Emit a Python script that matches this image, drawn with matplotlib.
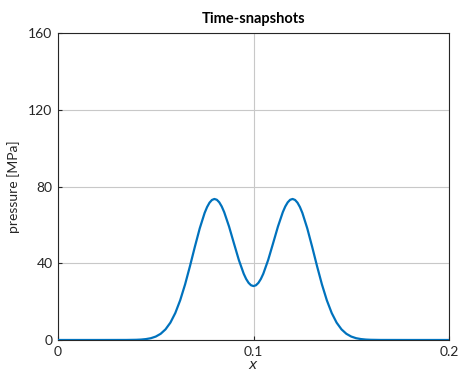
import matplotlib
matplotlib.use('Agg')
import matplotlib.pyplot as plt

plt.rcParams['font.family'] = ['Lato', 'DejaVu Sans']

# pressure snapshot
x_pos = [0.0, 0.02, 0.035, 0.04, 0.0425, 0.045, 0.0475, 0.05, 0.0525, 0.055, 0.0575,
         0.06, 0.0625, 0.065, 0.0675, 0.07, 0.0725, 0.075, 0.07625, 0.0775, 0.07875,
         0.08, 0.08125, 0.0825, 0.08375,
         0.085, 0.0875, 0.09, 0.0925, 0.095, 0.09625, 0.0975, 0.09875, 0.1, 0.10125,
         0.1025, 0.10375, 0.105, 0.1075,
         0.11, 0.1125, 0.115, 0.11625, 0.1175, 0.11875, 0.12, 0.12125, 0.1225, 0.12375,
         0.125, 0.1275, 0.13, 0.1325,
         0.135, 0.1375, 0.14, 0.1425, 0.145, 0.1475, 0.15, 0.1525, 0.155, 0.1575,
         0.16, 0.165, 0.18, 0.2]
pressure = [0.0, 0.0, 0.02, 0.1, 0.22, 0.47, 0.93, 1.78, 3.22, 5.55, 9.06,
            14.06, 20.71, 28.96, 38.48, 48.56, 58.18, 66.22, 69.28, 71.57, 72.99,
            73.50, 73.08, 71.75, 69.58,
            66.66, 59.11, 50.34, 41.70, 34.51, 31.78, 29.76, 28.52, 28.11, 28.52,
            29.76, 31.78, 34.51, 41.70,
            50.34, 59.11, 66.66, 69.58, 71.75, 73.08, 73.50, 72.99, 71.57, 69.28,
            66.22, 58.18, 48.56, 38.48,
            28.96, 20.71, 14.06, 9.06, 5.55, 3.22, 1.78, 0.93, 0.47, 0.22,
            0.1, 0.02, 0.0, 0.0]

x_ticks = [0, 0.1, 0.2]
x_tick_labels = ['0', '0.1', '0.2']
y_ticks = [0, 40, 80, 120, 160]

fig = plt.figure(figsize=(4.61, 3.73), dpi=100)
ax = fig.add_axes([0.1258, 0.0885, 0.8482, 0.823])

ax.plot(x_pos, pressure, color='#0072BD', linewidth=1.6, zorder=3,
        solid_joinstyle='round')

ax.set_xlim(0, 0.2)
ax.set_ylim(0, 160)
ax.set_xticks(x_ticks)
ax.set_xticklabels(x_tick_labels)
ax.set_yticks(y_ticks)
ax.grid(True, color='#c8c8c8', linewidth=0.8)
ax.set_axisbelow(True)
ax.tick_params(direction='in', length=3, color='#262626', labelsize=10,
               labelcolor='#262626', pad=4)
for s in ax.spines.values():
    s.set_color('#262626')
    s.set_linewidth(0.8)

ax.set_title('Time-snapshots', fontsize=10.5, fontweight='bold', color='black', pad=7)
ax.set_xlabel('$x$', fontsize=10, color='#262626', labelpad=1)
ax.set_ylabel('pressure [MPa]', fontsize=10, color='#262626', labelpad=6)

plt.savefig('out.png', dpi=100)
